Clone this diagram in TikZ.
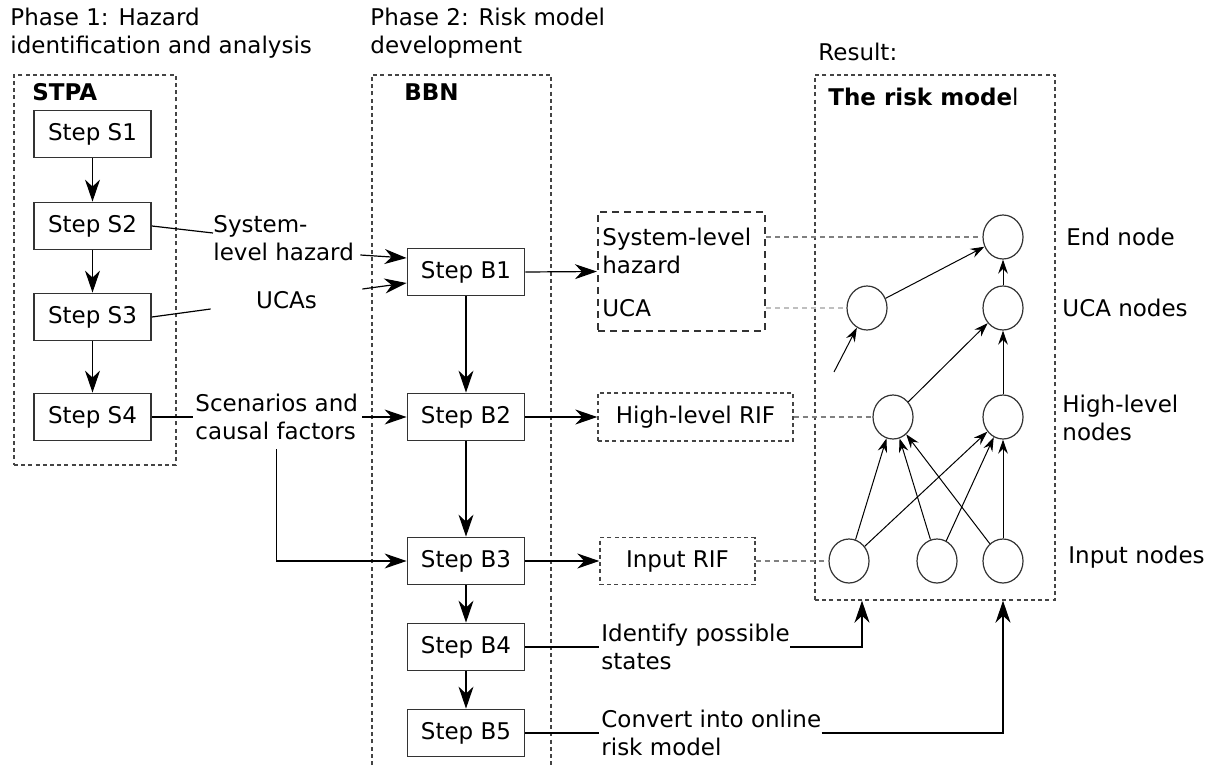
\documentclass[tikz,border=0pt]{standalone}
\usepackage{fontspec}
\setmainfont{DejaVu Sans}
\usetikzlibrary{arrows.meta,shapes.geometric}
\definecolor{boxline}{HTML}{333333}
\definecolor{dotline}{HTML}{444444}

\begin{document}
\begin{tikzpicture}[x=0.5pt,y=-0.5pt,font={\fontsize{11.5}{14}\selectfont},
  stepbox/.style={draw=boxline,line width=0.9pt,minimum width=58.5pt,minimum height=23.5pt,inner sep=0pt},
  groupbox/.style={draw=dotline,line width=0.7pt,dash pattern=on 2pt off 1.6pt,inner sep=0pt},
  bbnnode/.style={draw=boxline,ellipse,line width=0.6pt,minimum width=20pt,minimum height=22pt,inner sep=0pt},
  arr/.style={-{Stealth[length=11pt,width=7.5pt,inset=3.5pt]},line width=0.6pt},
  smallarr/.style={-{Stealth[length=7pt,width=4.8pt,inset=2.4pt]},line width=0.5pt},
  link/.style={draw=gray,line width=0.6pt,dash pattern=on 2.5pt off 2pt},
  lbl/.style={align=left,inner sep=0pt,anchor=west}]
  \useasboundingbox (0,0) rectangle (1218,765);
  % Phase 1: STPA
  \node[lbl,anchor=north west] (ph1) at (10,8) {Phase 1: Hazard\\identification and analysis};
  \node[groupbox,minimum width=81pt,minimum height=195pt] (stpa) at (95,270) {};
  \node[lbl,font={\fontsize{11.5}{14}\selectfont\bfseries}] (stpalbl) at (32,92) {STPA};
  \foreach \i/\y in {1/134,2/226,3/317,4/417}
    \node[stepbox] (s\i) at (92.5,\y) {Step S\i};
  \foreach \a/\b in {1/2,2/3,3/4} \draw[arr] (s\a) -- (s\b);
  % what goes from phase 1 to phase 2
  \node[lbl] (hazlbl) at (213,238) {System-\\level hazard};
  \node[inner sep=0pt,minimum width=75.5pt] (ucalbl) at (286.5,300) {UCAs};
  \node[lbl] (scen) at (195,417) {Scenarios and\\causal factors};
  % Phase 2: BBN
  \node[lbl,anchor=north west] (ph2) at (370,8) {Phase 2: Risk model\\development};
  \draw[groupbox] (372,765) -- (372,75) -- (551,75) -- (551,765);
  \node[lbl,font={\fontsize{11.5}{14}\selectfont\bfseries}] (bbnlbl) at (404,92) {BBN};
  \foreach \i/\y in {1/272,2/417,3/561,4/647,5/733}
    \node[stepbox] (b\i) at (466,\y) {Step B\i};
  \foreach \a/\b in {1/2,2/3,3/4,4/5} \draw[arr] (b\a) -- (b\b);
  \draw[line width=0.6pt] (s2.east) -- ([yshift=2.5pt]hazlbl.west);
  \draw[line width=0.6pt] (s3.east) -- ([yshift=-4.5pt]ucalbl.west);
  \draw[line width=0.6pt] (s4.east) -- ([xshift=-1pt]scen.west);
  \draw[arr] ([xshift=3pt,yshift=-8.5pt]hazlbl.east) -- ([yshift=7pt]b1.west);
  \draw[arr] ([yshift=5.5pt]ucalbl.east) -- ([yshift=-5.5pt]b1.west);
  \draw[arr] ([xshift=2pt]scen.east) -- (b2.west);
  \draw[arr] ([yshift=-4.5pt]scen.south) |- (b3.west);
  % outputs of the steps
  \node[draw=boxline,line width=1.1pt,dash pattern=on 3.5pt off 2.5pt,minimum width=83.5pt,
    minimum height=59.5pt] (hazbox) at (681.5,271.5) {};
  \node[lbl] (haztxt) at (602,251) {System-level\\hazard};
  \node[lbl] (ucatxt) at (602,308) {UCA};
  \node[groupbox,minimum width=97.5pt,minimum height=24pt] (hlrif) at (695.5,417) {High-level RIF};
  \node[groupbox,minimum width=77.5pt,minimum height=23.5pt] (inrif) at (677.5,561) {Input RIF};
  \node[lbl] (ident) at (601,647) {Identify possible\\states};
  \node[lbl] (conv) at (601,733) {Convert into online\\risk model};
  \draw[arr] (b1.east) -- (hazbox.west);
  \draw[arr] (b2.east) -- (hlrif.west);
  \draw[arr] (b3.east) -- (inrif.west);
  \draw[line width=0.6pt] (b4.east) -- ([xshift=-1pt]ident.west);
  \draw[line width=0.6pt] (b5.east) -- ([xshift=-1pt]conv.west);
  % Result: the risk model
  \node[lbl] (res) at (818,52) {Result:};
  \node[groupbox,minimum width=120pt,minimum height=262.5pt] (rm) at (935,337.5) {};
  \node[lbl,font={\fontsize{11.5}{14}\selectfont\bfseries}] (rmlbl) at (828,97)
    {The risk mode\textmd{l}};
  \node[bbnnode] (endn) at (1003,237) {};
  \node[bbnnode] (ucal) at (867,308) {};
  \node[bbnnode] (ucar) at (1003,308) {};
  \node[bbnnode] (hll) at (893,417) {};
  \node[bbnnode] (hlr) at (1003,417) {};
  \foreach \i/\x in {1/849,2/937,3/1003}
    \node[bbnnode] (in\i) at (\x,561) {};
  \coordinate (dangle) at (834,372);
  \draw[smallarr] (ucal) -- (endn);
  \draw[smallarr] (ucar) -- (endn);
  \draw[smallarr] (dangle) -- (ucal);
  \draw[smallarr] (hll) -- (ucar);
  \draw[smallarr] (hlr) -- (ucar);
  \foreach \i in {1,2,3} \draw[smallarr] (in\i) -- (hll);
  \foreach \i in {1,2,3} \draw[smallarr] (in\i) -- (hlr);
  \node[lbl] (endlbl) at (1066,237) {End node};
  \node[lbl] (ucanlbl) at (1062,308) {UCA nodes};
  \node[lbl] (hlnlbl) at (1062,418) {High-level\\nodes};
  \node[lbl] (inlbl) at (1068,557) {Input nodes};
  % dashed links from the outputs to the model
  \draw[link] (endn.west -| hazbox.east) -- (endn.west);
  \draw[link,draw=lightgray] (ucal.west -| hazbox.east) -- (ucal.west);
  \draw[link] (hlrif.east) -- (hll.west);
  \draw[link] (inrif.east) -- (in1.west);
  \draw[arr] (ident.east) -| ([xshift=-36.5pt]rm.south);
  \draw[arr] (conv.east) -| (in3 |- rm.south);
\end{tikzpicture}
\end{document}
